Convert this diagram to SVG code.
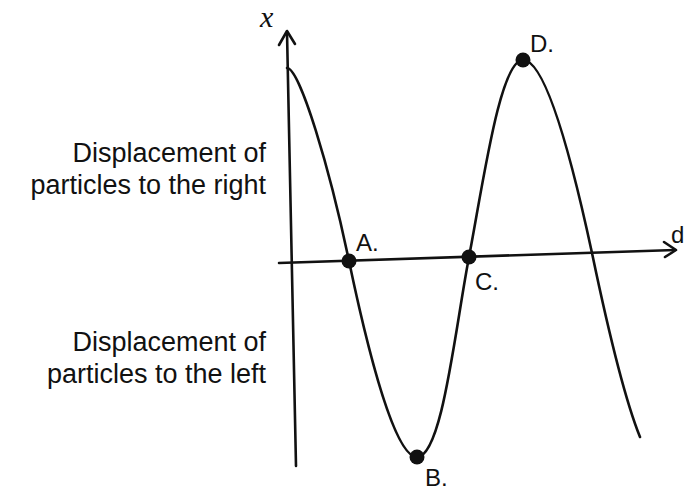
<svg xmlns="http://www.w3.org/2000/svg" width="685" height="492" viewBox="0 0 685 492">
<style>
.ln{fill:none;stroke:#111;stroke-width:2.6;stroke-linecap:round;stroke-linejoin:round}
.lbl{font-family:"Liberation Sans",Arial,sans-serif;font-size:24px;fill:#111}
.side{font-family:"Liberation Sans",Arial,sans-serif;font-size:27px;fill:#111}
.pt{fill:#111}
</style>
<rect width="685" height="492" fill="#fff"/>
<g id="connectors">
<path class="ln" d="M296,466 L287,32"/>
<path class="ln" d="M279,45 L287,31 L295,44"/>
<path class="ln" d="M279,263 L675,250"/>
<path class="ln" d="M664,242 L676,250 L665,257"/>
<path class="ln" d="M287,68 C300,68 330,170 349,261 C362,323 392,457 417,457 C442,457 455,330 469,257 C483,184 500,60 523,60 C546,60 572,160 592,253 C606,320 625,400 640,437"/>
</g>
<g id="axis-x"><text x="260" y="27" font-family="Liberation Serif,serif" font-style="italic" font-size="30" fill="#111">x</text></g>
<g id="axis-d"><text class="lbl" x="671" y="243">d</text></g>
<g id="label-right">
<text class="side" x="266" y="162" text-anchor="end">Displacement of</text>
<text class="side" x="266" y="194" text-anchor="end">particles to the right</text>
</g>
<g id="label-left">
<text class="side" x="266" y="351" text-anchor="end">Displacement of</text>
<text class="side" x="266" y="383" text-anchor="end">particles to the left</text>
</g>
<g id="A"><circle class="pt" cx="349" cy="261" r="7.5"/><text class="lbl" x="356" y="251">A.</text></g>
<g id="B"><circle class="pt" cx="417" cy="457" r="7.5"/><text class="lbl" x="425" y="486">B.</text></g>
<g id="C"><circle class="pt" cx="469" cy="257" r="7.5"/><text class="lbl" x="475" y="290">C.</text></g>
<g id="D"><circle class="pt" cx="523" cy="60" r="7.5"/><text class="lbl" x="530" y="52">D.</text></g>
</svg>
